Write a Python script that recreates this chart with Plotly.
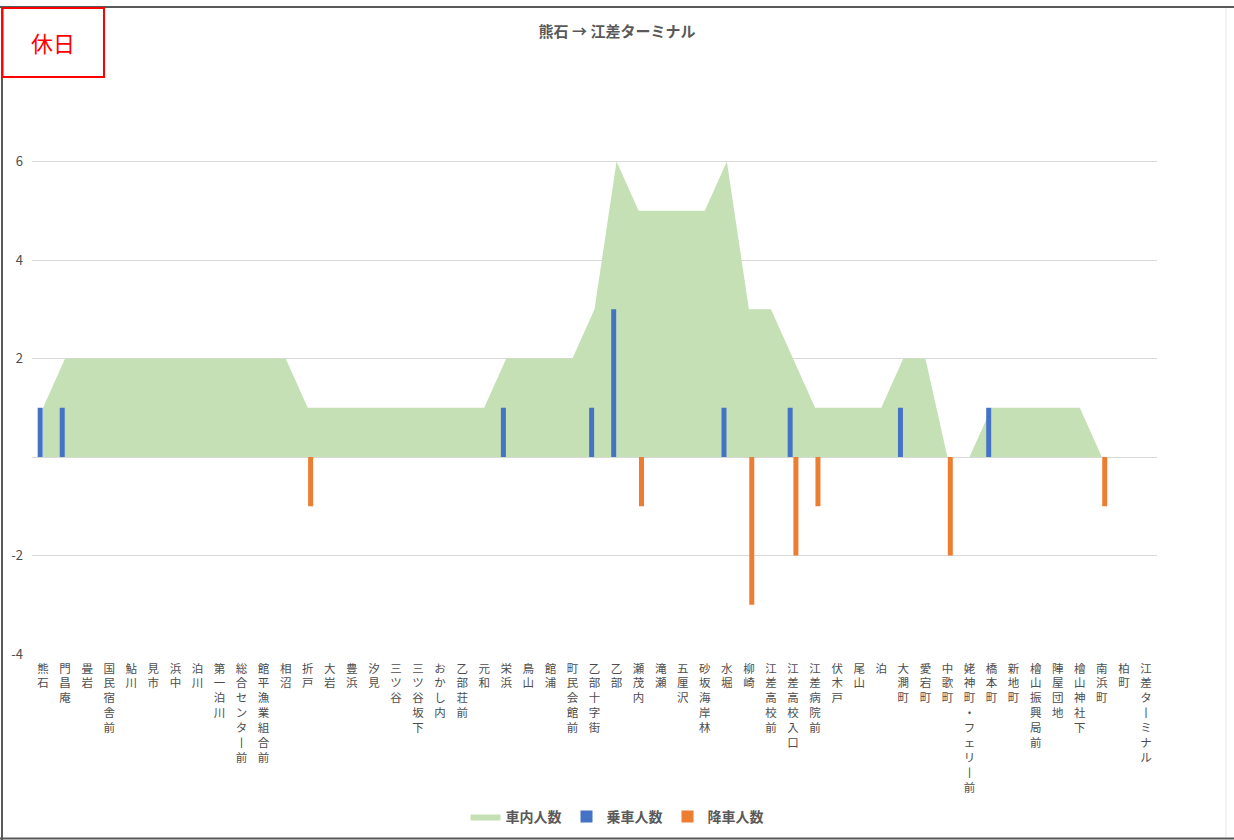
import plotly.graph_objects as go

stations = [
    "熊石", "門昌庵", "畳岩", "国民宿舎前", "鮎川", "見市", "浜中", "泊川", "第一泊川",
    "総合センター前", "館平漁業組合前", "相沼", "折戸", "大岩", "豊浜", "汐見", "三ツ谷",
    "三ツ谷坂下", "おかし内", "乙部荘前", "元和", "栄浜", "鳥山", "館浦", "町民会館前",
    "乙部十字街", "乙部", "瀬茂内", "滝瀬", "五厘沢", "砂坂海岸林", "水堀", "柳崎",
    "江差高校前", "江差高校入口", "江差病院前", "伏木戸", "尾山", "泊", "大澗町", "愛宕町",
    "中歌町", "姥神町・フェリー前", "橋本町", "新地町", "檜山振興局前", "陣屋団地",
    "檜山神社下", "南浜町", "柏町", "江差ターミナル",
]

on_board = [1, 2, 2, 2, 2, 2, 2, 2, 2, 2, 2, 2, 1, 1, 1, 1, 1, 1, 1, 1, 1,
            2, 2, 2, 2, 3, 6, 5, 5, 5, 5, 6, 3, 3, 2, 1, 1, 1, 1, 2, 2,
            0, 0, 1, 1, 1, 1, 1, 0, 0, 0]

boarding = [1, 1, 0, 0, 0, 0, 0, 0, 0, 0, 0, 0, 0, 0, 0, 0, 0, 0, 0, 0, 0,
            1, 0, 0, 0, 1, 3, 0, 0, 0, 0, 1, 0, 0, 1, 0, 0, 0, 0, 1, 0,
            0, 0, 1, 0, 0, 0, 0, 0, 0, 0]

alighting = [0, 0, 0, 0, 0, 0, 0, 0, 0, 0, 0, 0, -1, 0, 0, 0, 0, 0, 0, 0, 0,
             0, 0, 0, 0, 0, 0, -1, 0, 0, 0, 0, -3, 0, -2, -1, 0, 0, 0, 0, 0,
             -2, 0, 0, 0, 0, 0, 0, -1, 0, 0]

y_tickvals = [-4, -2, 0, 2, 4, 6, 8]
y_ticktext = ["-4", "-2", "", "2", "4", "6", ""]

title_text = "熊石 → 江差ターミナル"
badge_text = "休日"
series_names = ["車内人数", "乗車人数", "降車人数"]

W, H = 1234, 840
L, R, T, B = 32, 1157, 63, 654


def vertical(s):
    return "<br>".join("丨" if c == "ー" else c for c in s)


def px_x(px):
    return (px - L) / (R - L)


def px_y(py):
    return (B - py) / (B - T)


GREY = "#595959"
TICK = "#4D4D4D"
FONT = "Noto Sans CJK JP"

fig = go.Figure()
fig.add_trace(go.Scatter(
    x=stations, y=on_board, name=series_names[0], mode="lines",
    fill="tozeroy", fillcolor="#C5E0B4", line=dict(width=0, color="#C5E0B4"),
    xaxis="x", yaxis="y",
))
fig.add_trace(go.Bar(x=stations, y=boarding, name=series_names[1],
                     marker=dict(color="#4472C4", line=dict(width=0)),
                     xaxis="x2", yaxis="y2"))
fig.add_trace(go.Bar(x=stations, y=alighting, name=series_names[2],
                     marker=dict(color="#ED7D31", line=dict(width=0)),
                     xaxis="x2", yaxis="y2"))

frame_color = "#595959"
shapes = [
    dict(type="line", xref="paper", yref="paper", x0=px_x(0), x1=px_x(1234),
         y0=px_y(7), y1=px_y(7), line=dict(color=frame_color, width=2)),
    dict(type="line", xref="paper", yref="paper", x0=px_x(2), x1=px_x(2),
         y0=px_y(7), y1=px_y(840), line=dict(color=frame_color, width=2)),
    dict(type="line", xref="paper", yref="paper", x0=px_x(0), x1=px_x(1234),
         y0=px_y(838.5), y1=px_y(838.5), line=dict(color=frame_color, width=2)),
    dict(type="line", xref="paper", yref="paper", x0=px_x(1226), x1=px_x(1226),
         y0=px_y(8), y1=px_y(837), line=dict(color="#E6E6E6", width=1)),
    dict(type="rect", xref="paper", yref="paper", x0=px_x(2.5), x1=px_x(104),
         y0=px_y(8), y1=px_y(77), line=dict(color="#FF0000", width=2),
         fillcolor="white"),
]

n = len(stations)
fig.update_layout(
    width=W, height=H,
    margin=dict(l=L, r=W - R, t=T, b=H - B, autoexpand=False),
    paper_bgcolor="white", plot_bgcolor="white",
    barmode="group", bargap=0.48, bargroupgap=0.13,
    font=dict(family=FONT, color=GREY),
    title=dict(text=title_text, x=0.5, xref="container", xanchor="center",
               y=1 - 32 / H, yref="container", yanchor="middle",
               font=dict(size=15, color=GREY, family=FONT, weight="bold")),
    legend=dict(orientation="h", x=0.5, xref="container", xanchor="center",
                y=1 - 817 / H, yref="container", yanchor="middle",
                font=dict(size=14, color=GREY, family=FONT, weight="bold"),
                itemwidth=30, traceorder="normal"),
    shapes=shapes,
    annotations=[dict(text=badge_text, xref="paper", yref="paper",
                      x=px_x(53), y=px_y(42), showarrow=False,
                      xanchor="center", yanchor="middle",
                      font=dict(size=22, color="#FF0000", family=FONT))],
    showlegend=True,
    xaxis=dict(
        type="category", range=[-0.5, n - 0.5],
        tickmode="array", tickvals=stations, ticktext=[vertical(s) for s in stations],
        tickangle=0, showgrid=False, showline=False, zeroline=False, ticks="",
        ticklabelstandoff=6,
        tickfont=dict(size=11.5, color=TICK, family=FONT),
    ),
    yaxis=dict(
        range=[-4, 8], tickmode="array", tickvals=y_tickvals, ticktext=y_ticktext,
        showgrid=True, gridcolor="#D9D9D9", gridwidth=1,
        zeroline=True, zerolinecolor="#D9D9D9", zerolinewidth=1,
        showline=False, ticks="", ticklabelstandoff=8,
        tickfont=dict(size=13, color=TICK, family=FONT),
    ),
    xaxis2=dict(
        type="category", range=[-0.5, n - 0.5], overlaying="x", matches="x",
        showticklabels=False, showgrid=False, showline=False, zeroline=False,
        ticks="",
    ),
    yaxis2=dict(
        range=[-4, 8], overlaying="y", showticklabels=False, showgrid=False,
        showline=False, zeroline=False, ticks="",
    ),
)

fig.write_html("out.html", config={"displayModeBar": False},
               post_script="document.body.style.margin='0';document.body.style.padding='0';")
